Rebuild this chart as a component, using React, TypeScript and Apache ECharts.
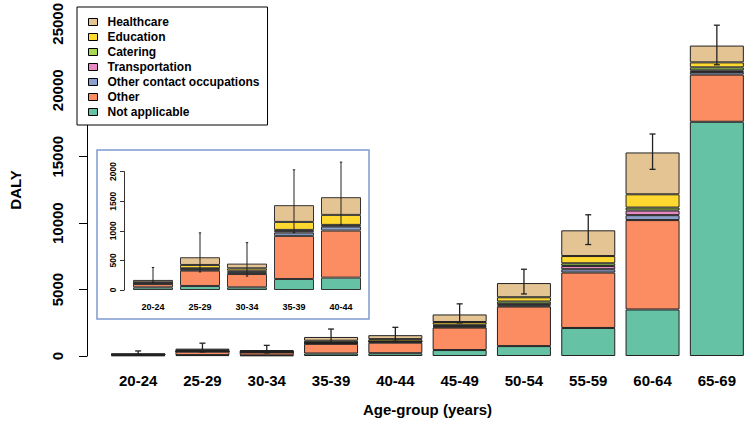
import { useEffect, useRef } from "react";
import * as echarts from "echarts";

const categories = ["20-24", "25-29", "30-34", "35-39", "40-44", "45-49", "50-54", "55-59", "60-64", "65-69"];
const insetCount = 5;

const notApplicable = [45, 68, 45, 186, 209, 447, 745, 2110, 3500, 17630];
const other = [55, 260, 225, 728, 795, 1693, 2980, 4172, 6730, 3550];
const otherContact = [8, 15, 20, 56, 68, 70, 75, 248, 370, 200];
const transportation = [6, 12, 18, 25, 15, 70, 100, 250, 350, 120];
const catering = [6, 12, 19, 20, 13, 80, 200, 197, 220, 225];
const education = [10, 56, 40, 135, 169, 200, 320, 546, 1000, 375];
const healthcare = [40, 130, 79, 283, 299, 568, 1070, 1937, 3150, 1265];

const errLower = [130, 305, 235, 970, 1100, 2490, 4670, 8390, 14050, 21920];
const errUpper = [380, 965, 800, 2030, 2160, 3925, 6530, 10630, 16710, 24900];

const layers = [
  { name: "Not applicable", color: "#66C2A5", data: notApplicable },
  { name: "Other", color: "#FC8D62", data: other },
  { name: "Other contact occupations", color: "#8DA0CB", data: otherContact },
  { name: "Transportation", color: "#E78AC3", data: transportation },
  { name: "Catering", color: "#A6D854", data: catering },
  { name: "Education", color: "#FFD92F", data: education },
  { name: "Healthcare", color: "#E5C494", data: healthcare },
];

const FONT = "'Liberation Sans', Arial, sans-serif";

function errRender(cap: number, width: number) {
  return (_params: any, api: any) => {
    const x = api.value(0);
    const lo = api.coord([x, api.value(1)]);
    const hi = api.coord([x, api.value(2)]);
    const style = { stroke: "#222", lineWidth: width };
    return {
      type: "group",
      children: [
        { type: "line", shape: { x1: lo[0], y1: lo[1], x2: hi[0], y2: hi[1] }, style },
        { type: "line", shape: { x1: hi[0] - cap, y1: hi[1], x2: hi[0] + cap, y2: hi[1] }, style },
        { type: "line", shape: { x1: lo[0] - cap, y1: lo[1], x2: lo[0] + cap, y2: lo[1] }, style },
      ],
    };
  };
}

const plain = (v: number) => String(v);

export default function App() {
  const ref = useRef<HTMLDivElement>(null);
  useEffect(() => {
    if (!ref.current) return;
    const chart = echarts.init(ref.current, null, { renderer: "svg" });
    const barSeries: any[] = [];
    layers.forEach((l) => {
      barSeries.push({
        name: l.name,
        type: "bar",
        stack: "main",
        xAxisIndex: 0,
        yAxisIndex: 0,
        barWidth: 54,
        data: l.data,
        itemStyle: { color: l.color, borderColor: "#222", borderWidth: 1 },
      });
    });
    layers.forEach((l) => {
      barSeries.push({
        name: l.name,
        type: "bar",
        stack: "inset",
        xAxisIndex: 1,
        yAxisIndex: 1,
        barWidth: 40,
        data: l.data.slice(0, insetCount),
        itemStyle: { color: l.color, borderColor: "#333", borderWidth: 1 },
        z: 5,
      });
    });
    const option: any = {
      animation: false,
      backgroundColor: "#fff",
      textStyle: { fontFamily: FONT },
      graphic: [
        {
          type: "rect",
          z: 1,
          shape: { x: 97, y: 150, width: 272, height: 169 },
          style: { fill: "#fff", stroke: "#7F9BD0", lineWidth: 1.5 },
        },
      ],
      legend: {
        orient: "vertical",
        left: 77,
        top: 7,
        padding: [9, 8, 7, 11],
        borderColor: "#000",
        borderWidth: 1,
        backgroundColor: "#fff",
        itemWidth: 9,
        itemHeight: 7,
        itemGap: 3,
        icon: "rect",
        itemStyle: { borderColor: "#000", borderWidth: 1 },
        textStyle: { fontFamily: FONT, fontSize: 12, fontWeight: "bold", color: "#000", lineHeight: 12, padding: [0, 0, 0, 5] },
        data: ["Healthcare", "Education", "Catering", "Transportation", "Other contact occupations", "Other", "Not applicable"],
        z: 10,
      },
      grid: [
        { left: 97, top: 22, width: 654, height: 335.7 },
        { left: 129.5, top: 171.6, width: 235, height: 118.4, z: 5 },
      ],
      xAxis: [
        {
          type: "category",
          gridIndex: 0,
          data: categories,
          axisLine: { show: false },
          axisTick: { show: false },
          axisLabel: { fontFamily: FONT, fontSize: 15, fontWeight: "bold", color: "#000", margin: 17 },
          name: "Age-group (years)",
          nameLocation: "middle",
          nameGap: 46,
          nameTextStyle: { fontFamily: FONT, fontSize: 15, fontWeight: "bold", color: "#000" },
        },
        {
          type: "category",
          gridIndex: 1,
          z: 6,
          data: categories.slice(0, insetCount),
          axisLine: { show: false },
          axisTick: { show: false },
          axisLabel: { fontFamily: FONT, fontSize: 9, fontWeight: "bold", color: "#000", margin: 12 },
        },
      ],
      yAxis: [
        {
          type: "value",
          gridIndex: 0,
          min: 0,
          max: 25000,
          interval: 5000,
          offset: 19,
          splitLine: { show: false },
          axisLine: { show: true, lineStyle: { color: "#000", width: 1 } },
          axisTick: { show: true, length: 8, lineStyle: { color: "#000" } },
          axisLabel: { fontFamily: FONT, fontSize: 15, fontWeight: "bold", color: "#000", rotate: 90, margin: 22, formatter: plain },
          name: "DALY",
          nameLocation: "middle",
          nameRotate: 90,
          nameGap: 64,
          nameTextStyle: { fontFamily: FONT, fontSize: 15, fontWeight: "bold", color: "#000" },
        },
        {
          type: "value",
          gridIndex: 1,
          z: 6,
          min: 0,
          max: 2000,
          interval: 500,
          offset: 5.5,
          splitLine: { show: false },
          axisLine: { show: true, lineStyle: { color: "#333", width: 1 } },
          axisTick: { show: true, length: 4, lineStyle: { color: "#333" } },
          axisLabel: { fontFamily: FONT, fontSize: 8.5, fontWeight: "bold", color: "#000", rotate: 90, margin: 7, formatter: plain },
        },
      ],
      series: [
        ...barSeries,
        {
          type: "custom",
          name: "err-main",
          xAxisIndex: 0,
          yAxisIndex: 0,
          renderItem: errRender(3, 1.3),
          encode: { x: 0, y: [1, 2] },
          data: categories.map((_c, i) => [i, errLower[i], errUpper[i]]),
          clip: false,
          z: 4,
        },
        {
          type: "custom",
          name: "err-inset",
          xAxisIndex: 1,
          yAxisIndex: 1,
          renderItem: errRender(1.2, 1),
          encode: { x: 0, y: [1, 2] },
          data: categories.slice(0, insetCount).map((_c, i) => [i, errLower[i], errUpper[i]]),
          clip: false,
          z: 6,
        },
      ],
    };
    chart.setOption(option);
    return () => chart.dispose();
  }, []);
  return <div ref={ref} style={{ position: "fixed", left: 0, top: 0, width: 749, height: 422 }} />;
}
